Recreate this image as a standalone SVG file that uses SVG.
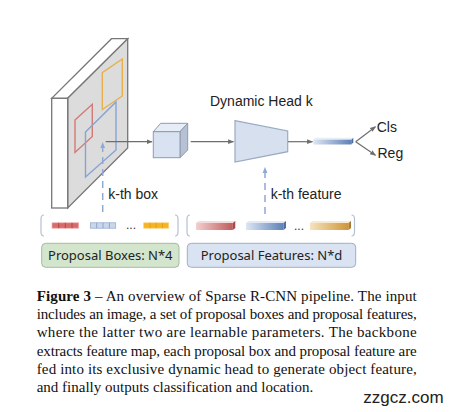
<svg xmlns="http://www.w3.org/2000/svg" width="451" height="412" viewBox="0 0 451 412">
<style>
.lbl{font-family:"Liberation Sans",Arial,sans-serif;font-size:14px;fill:#222}
.box{font-family:"Noto Sans","Open Sans",sans-serif;font-size:13px;fill:#222}
.cap{font-family:"Liberation Serif","Times New Roman",serif;font-size:15px;fill:#111}
.conn{stroke:#6e6e6e;stroke-width:1.2;fill:none}
.dash{stroke:#8fa8d6;stroke-width:1.5;fill:none;stroke-dasharray:7,5}
.brk{stroke:#b4c0d4;stroke-width:1.2;fill:none}
.dots{font-family:"Liberation Sans",Arial,sans-serif;font-size:12px;fill:#333}
</style>
<defs>
<marker id="ah" viewBox="0 0 10 10" refX="9" refY="5" markerWidth="6" markerHeight="6" orient="auto" markerUnits="userSpaceOnUse">
<path d="M0,1 L10,5 L0,9 z" fill="#6e6e6e"/>
</marker>
<marker id="ahb" viewBox="0 0 10 10" refX="9" refY="5" markerWidth="6" markerHeight="6" orient="auto" markerUnits="userSpaceOnUse">
<path d="M0,1 L10,5 L0,9 z" fill="#8fa8d6"/>
</marker>
<linearGradient id="gBlue" x1="0" x2="1" y1="0" y2="0"><stop offset="0" stop-color="#dde6f3"/><stop offset="1" stop-color="#5e81b6"/></linearGradient>
<linearGradient id="gRed" x1="0" x2="1" y1="0" y2="0"><stop offset="0" stop-color="#f2d0d0"/><stop offset="1" stop-color="#bf5c5c"/></linearGradient>
<linearGradient id="gOr" x1="0" x2="1" y1="0" y2="0"><stop offset="0" stop-color="#f6e3bf"/><stop offset="1" stop-color="#cf963a"/></linearGradient>
</defs>

<g id="image">
<polygon points="51.7,98.3 67.7,98.3 127.7,38.7 111.5,38.7" fill="#fff" stroke="#777" stroke-width="1.3"/>
<polygon points="67.7,98.3 127.7,38.7 127.7,148 67.7,208" fill="#dcdcdc" stroke="#777" stroke-width="1.3"/>
<rect x="51.7" y="98.3" width="16" height="109.7" fill="#fff" stroke="#777" stroke-width="1.3"/>
<polygon points="102.3,72.7 122.3,59 122.3,96 102.3,109.5" fill="none" stroke="#e8b04a" stroke-width="1.4"/>
<polygon points="75,120 92.3,104.3 92.3,136.5 75,152.5" fill="none" stroke="#d47a74" stroke-width="1.4"/>
<polygon points="85.5,132 116,102 116,150 85.5,177" fill="none" stroke="#86a3d6" stroke-width="1.4"/>
</g>

<g id="cube">
<polygon points="153.3,131.7 160.7,123.3 187.7,123.3 180,131.7" fill="#e6edf7" stroke="#8e9aae" stroke-width="1"/>
<polygon points="180,131.7 187.7,123.3 187.7,150 180,157.7" fill="#b6c1d3" stroke="#8e9aae" stroke-width="1"/>
<rect x="153.3" y="131.7" width="26.7" height="26" fill="#d8e2f1" stroke="#8e9aae" stroke-width="1"/>
</g>

<g id="head">
<text class="lbl" x="210" y="106">Dynamic Head k</text>
<polygon points="235,120.7 287.7,131 287.7,151.7 235,162" fill="#d6e0ef" stroke="#9aaac2" stroke-width="1.2"/>
</g>

<g id="objfeat">
<polygon points="313.3,139.7 315.3,137.7 353.3,137.7 351.3,139.7" fill="#e6edf6"/>
<rect x="313.3" y="139.7" width="38" height="4.8" fill="url(#gBlue)"/>
<polygon points="351.3,139.7 353.3,137.7 353.3,142.5 351.3,144.5" fill="#4d6ea3"/>
</g>

<g id="outputs">
<text class="lbl" x="376.7" y="131.7">Cls</text>
<text class="lbl" x="377.5" y="158.3">Reg</text>
</g>

<g id="labels">
<text class="lbl" x="108.3" y="199">k-th box</text>
<text class="lbl" x="270.7" y="199">k-th feature</text>
</g>

<g id="proposalBoxes">
<path class="brk" d="M44,215 Q41,215 41,219 L41,232 Q41,236 44,236"/>
<path class="brk" d="M175,215 Q178,215 178,219 L178,232 Q178,236 175,236"/>
<rect x="52" y="222.8" width="26.7" height="5.4" fill="#d86c6c" stroke="#eeb0b0" stroke-width="0.7"/>
<path d="M58.7,222.8v5.4M65.3,222.8v5.4M72,222.8v5.4" stroke="#a84040" stroke-width="0.8"/>
<rect x="90.3" y="222.8" width="25.4" height="5.4" fill="#cad7ea" stroke="#8ea6cc" stroke-width="0.7"/>
<path d="M96.7,222.8v5.4M103,222.8v5.4M109.4,222.8v5.4" stroke="#7d97c0" stroke-width="0.8"/>
<text class="dots" x="126" y="229">...</text>
<rect x="143.7" y="222.8" width="25" height="5.4" fill="#f6b425" stroke="#fbd27a" stroke-width="0.7"/>
<path d="M150,222.8v5.4M156.2,222.8v5.4M162.5,222.8v5.4" stroke="#e09c10" stroke-width="0.8"/>
<rect x="41.7" y="243.3" width="137.3" height="24" rx="4" fill="#d3e6cd" stroke="#a3bc9c" stroke-width="1"/>
<text class="box" x="110.3" y="260" text-anchor="middle">Proposal Boxes: N*4</text>
</g>

<g id="proposalFeatures">
<path class="brk" d="M190,215 Q187,215 187,219 L187,232 Q187,236 190,236"/>
<path class="brk" d="M351.5,215 Q354.5,215 354.5,219 L354.5,232 Q354.5,236 351.5,236"/>
<polygon points="196,223 198.5,221 235.3,221 232.8,223" fill="#f5dcdc"/>
<rect x="196" y="223" width="36.8" height="7" fill="url(#gRed)"/>
<polygon points="232.8,223 235.3,221 235.3,228 232.8,230" fill="#a84848"/>
<polygon points="246,223 248.5,221 286,221 283.5,223" fill="#e3eaf5"/>
<rect x="246" y="223" width="37.5" height="7" fill="url(#gBlue)"/>
<polygon points="283.5,223 286,221 286,228 283.5,230" fill="#4d6ea3"/>
<text class="dots" x="294" y="230">...</text>
<polygon points="310,223 312.5,221 351,221 348.5,223" fill="#f8ead0"/>
<rect x="310" y="223" width="38.5" height="7" fill="url(#gOr)"/>
<polygon points="348.5,223 351,221 351,228 348.5,230" fill="#b07a28"/>
<rect x="187.3" y="243.3" width="168.4" height="24" rx="4" fill="#dae3f2" stroke="#9eadc6" stroke-width="1"/>
<text class="box" x="271.5" y="260" text-anchor="middle">Proposal Features: N*d</text>
</g>

<g id="connectors">
<line class="conn" x1="105.7" y1="141.7" x2="152" y2="141.7" marker-end="url(#ah)"/>
<line class="conn" x1="190.7" y1="141.7" x2="233.5" y2="141.7" marker-end="url(#ah)"/>
<line class="conn" x1="288" y1="141.7" x2="312.5" y2="141.7" marker-end="url(#ah)"/>
<line class="conn" x1="355.7" y1="141.7" x2="375.5" y2="126.7" marker-end="url(#ah)"/>
<line class="conn" x1="355.7" y1="141.7" x2="375.5" y2="155.3" marker-end="url(#ah)"/>
<line class="dash" x1="102.7" y1="212" x2="102.7" y2="142.7" marker-end="url(#ahb)"/>
<line class="dash" x1="265" y1="214" x2="265" y2="167.5" marker-end="url(#ahb)"/>
</g>

<g id="caption">
<text class="cap" x="36.7" y="300.7" textLength="380" lengthAdjust="spacing"><tspan font-weight="bold">Figure 3</tspan> – An overview of Sparse R-CNN pipeline.  The input</text>
<text class="cap" x="36.7" y="319" textLength="380" lengthAdjust="spacing">includes an image, a set of proposal boxes and proposal features,</text>
<text class="cap" x="36.7" y="337.3" textLength="380" lengthAdjust="spacing">where the latter two are learnable parameters.  The backbone</text>
<text class="cap" x="36.7" y="355.7" textLength="380" lengthAdjust="spacing">extracts feature map, each proposal box and proposal feature are</text>
<text class="cap" x="36.7" y="374" textLength="380" lengthAdjust="spacing">fed into its exclusive dynamic head to generate object feature,</text>
<text class="cap" x="36.7" y="392.3">and finally outputs classification and location.</text>
<text x="363.3" y="402.7" font-family="Liberation Sans,Arial,sans-serif" font-size="17" fill="#222">zzgcz.com</text>
</g>
</svg>
